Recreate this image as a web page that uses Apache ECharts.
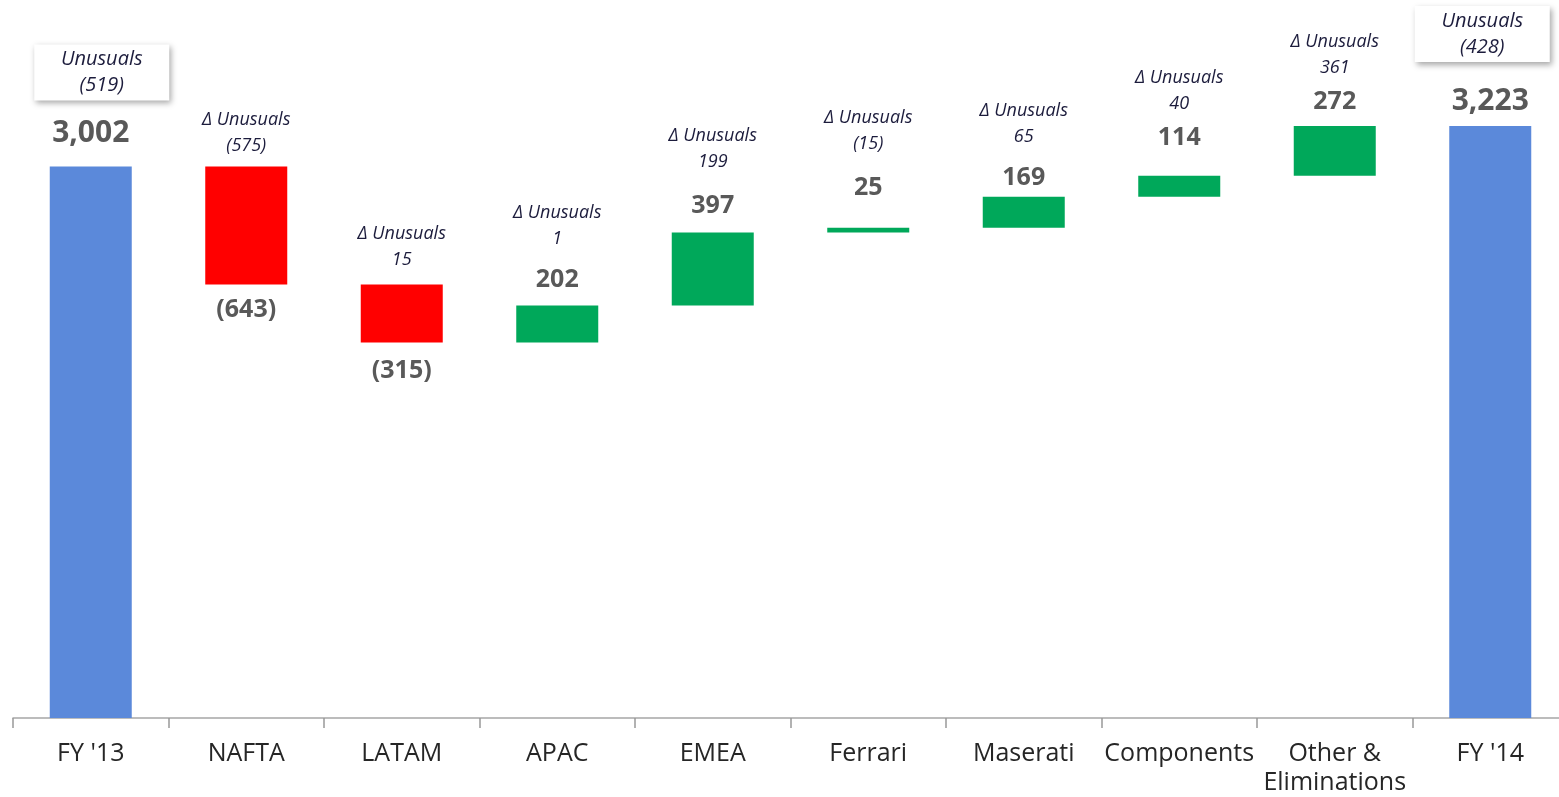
<!DOCTYPE html>
<html>
<head>
<meta charset="utf-8">
<script src="https://cdn.jsdelivr.net/npm/echarts@6/dist/echarts.min.js"></script>
<style>
  html, body { margin: 0; padding: 0; background: #fff; }
  #chart { width: 1559px; height: 797px; }
</style>
</head>
<body>
<div id="chart"></div>
<script>
// 数据
const categories = ["FY '13", "NAFTA", "LATAM", "APAC", "EMEA", "Ferrari", "Maserati", "Components", "Other &\nEliminations", "FY '14"];
const startTotal = 3002;
const endTotal = 3223;
const deltas = [-643, -315, 202, 397, 25, 169, 114, 272];
const totalUnusuals = [-519, -428];
const deltaUnusuals = [-575, 15, 1, 199, -15, 65, 40, 361];

// 标签与柱子的间距(像素), 原图是手动摆放的
const valueGap = [13, 16, 13, 14, 27, 6, 25, 12];
const noteGap = [8, 12, 54, 58, 71, 47, 59, 45];

const fmt = (v) => {
  const s = Math.abs(v).toLocaleString("en-US");
  return v < 0 ? "(" + s + ")" : s;
};

const BLUE = "#5b89da";
const RED = "#ff0000";
const GREEN = "#00a85a";

const boxLabel = {
  backgroundColor: "#ffffff",
  shadowColor: "rgba(0,0,0,0.35)",
  shadowBlur: 6,
  shadowOffsetX: 2,
  shadowOffsetY: 3,
  width: 135,
  padding: [2, 0, 2, 0]
};

// 瀑布图: 透明底 + 可见柱 + 0高度的标签柱
const baseData = [];
const barData = [];
const noteData = [];

barData.push({
  value: startTotal,
  itemStyle: { color: BLUE },
  label: { show: true, position: "top", distance: 18, fontSize: 30, formatter: fmt(startTotal) }
});
baseData.push(0);
noteData.push({
  value: 0,
  label: Object.assign({ distance: 66, offset: [11, 0], formatter: "{box|Unusuals\n" + fmt(totalUnusuals[0]) + "}" }, boxLabel)
});

let running = startTotal;
deltas.forEach((d, i) => {
  const next = running + d;
  baseData.push(Math.min(running, next));
  barData.push({
    value: Math.abs(d),
    itemStyle: { color: d < 0 ? RED : GREEN },
    label: {
      show: true,
      position: d < 0 ? "bottom" : "top",
      distance: valueGap[i],
      fontSize: 25,
      formatter: fmt(d)
    }
  });
  noteData.push({
    value: 0,
    label: {
      distance: noteGap[i],
      formatter: "{it|\u0394 Unusuals\n" + fmt(deltaUnusuals[i]) + "}"
    }
  });
  running = next;
});

baseData.push(0);
barData.push({
  value: endTotal,
  itemStyle: { color: BLUE },
  label: { show: true, position: "top", distance: 9, fontSize: 30, formatter: fmt(endTotal) }
});
noteData.push({
  value: 0,
  label: Object.assign({ distance: 64, offset: [-8, 0], formatter: "{box|Unusuals\n" + fmt(totalUnusuals[1]) + "}" }, boxLabel)
});

const myChart = echarts.init(document.getElementById("chart"));

myChart.setOption({
  animation: false,
  textStyle: { fontFamily: "Open Sans" },
  grid: { left: 13, width: 1555, top: 75, bottom: 79, containLabel: false, outerBoundsMode: "none" },
  xAxis: {
    type: "category",
    data: categories,
    axisLine: { lineStyle: { color: "#a6a6a6", width: 1.5 } },
    axisTick: { show: true, length: 10, lineStyle: { color: "#999999", width: 1.5 } },
    axisLabel: {
      interval: 0,
      margin: 21,
      fontSize: 25,
      lineHeight: 29,
      color: "#262626",
      fontFamily: "Open Sans"
    }
  },
  yAxis: { type: "value", min: 0, max: 3500, show: false },
  series: [
    {
      type: "bar",
      stack: "wf",
      barWidth: 82,
      itemStyle: { color: "transparent" },
      silent: true,
      data: baseData
    },
    {
      type: "bar",
      stack: "wf",
      barWidth: 82,
      label: {
        fontFamily: "Open Sans",
        fontWeight: "bold",
        color: "#595959"
      },
      data: barData
    },
    {
      type: "bar",
      stack: "wf",
      barWidth: 82,
      itemStyle: { color: "transparent" },
      label: {
        show: true,
        position: "top",
        align: "center",
        rich: {
          it: {
            fontFamily: "Open Sans",
            fontStyle: "italic",
            fontSize: 18,
            lineHeight: 26,
            color: "#1c1c3c",
            align: "center"
          },
          box: {
            fontFamily: "Open Sans",
            fontStyle: "italic",
            fontSize: 20,
            lineHeight: 26,
            color: "#1c1c3c",
            align: "center"
          }
        }
      },
      data: noteData
    }
  ]
});
</script>
</body>
</html>
